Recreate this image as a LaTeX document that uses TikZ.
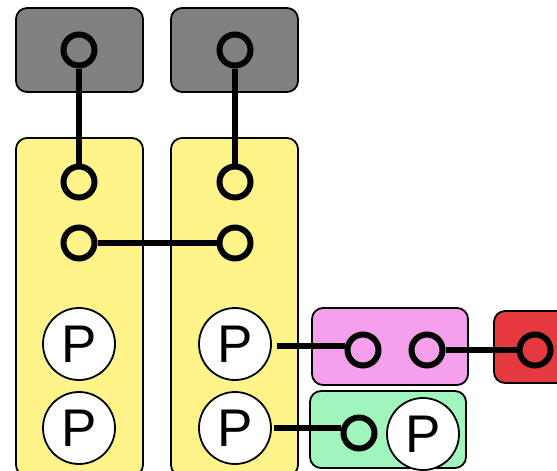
\documentclass[tikz,border=0pt]{standalone}
\usepackage{fontspec}
\setmainfont{Liberation Sans}
\begin{document}
\begin{tikzpicture}[x=1pt,y=-1pt,
  box/.style={draw=black,line width=1.8pt,rounded corners=11pt},
  port/.style={circle,draw=black,line width=6pt,minimum size=31pt,inner sep=0pt},
  pnode/.style={circle,draw=black,fill=white,line width=1.8pt,minimum size=72pt,inner sep=0pt,
    font=\fontsize{53}{53}\selectfont},
  wire/.style={line width=6pt}]
\useasboundingbox (0,0) rectangle (557,471);
\definecolor{grayfill}{HTML}{808080}
\definecolor{yellowfill}{HTML}{FFF48A}
\definecolor{pinkfill}{HTML}{F5A0EC}
\definecolor{redfill}{HTML}{E3393F}
\definecolor{greenfill}{HTML}{A0F5BC}
% boxes
\draw[box,fill=grayfill] (16,8) rectangle (143,92);
\draw[box,fill=grayfill] (171,8) rectangle (298,92);
\draw[box,fill=yellowfill] (16,138) rectangle (143,476);
\draw[box,fill=yellowfill] (171,138) rectangle (298,476);
\draw[box,fill=pinkfill] (312,308) rectangle (468,385);
\draw[box,fill=redfill] (494,311) rectangle (580,383);
\draw[box,fill=greenfill] (310,391) rectangle (466,468);
% ports
\node[port] (g1) at (79,50) {};
\node[port] (g2) at (235,50) {};
\node[port] (a1) at (79,182) {};
\node[port] (a2) at (79,243) {};
\node[port] (b1) at (235,182) {};
\node[port] (b2) at (235,243) {};
\node[port] (m1) at (363,350) {};
\node[port] (m2) at (427,350) {};
\node[port] (r1) at (535,350) {};
\node[port] (e1) at (359,433) {};
% P nodes
\node[pnode] (p1) at (79,344) {P};
\node[pnode] (p2) at (79,428) {P};
\node[pnode] (p3) at (235,344) {P};
\node[pnode] (p4) at (235,428) {P};
\node[pnode] (p5) at (423,434) {P};
% wires
\draw[wire] (g1) -- (a1);
\draw[wire] (g2) -- (b1);
\draw[wire] (a2) -- (b2);
\draw[wire] ([xshift=5pt]p3.east |- 0,346) -- (m1.west |- 0,346);
\draw[wire] (m2) -- (r1);
\draw[wire] ([xshift=2pt]p4.east |- 0,428) -- (e1.west |- 0,428);
\end{tikzpicture}
\end{document}
